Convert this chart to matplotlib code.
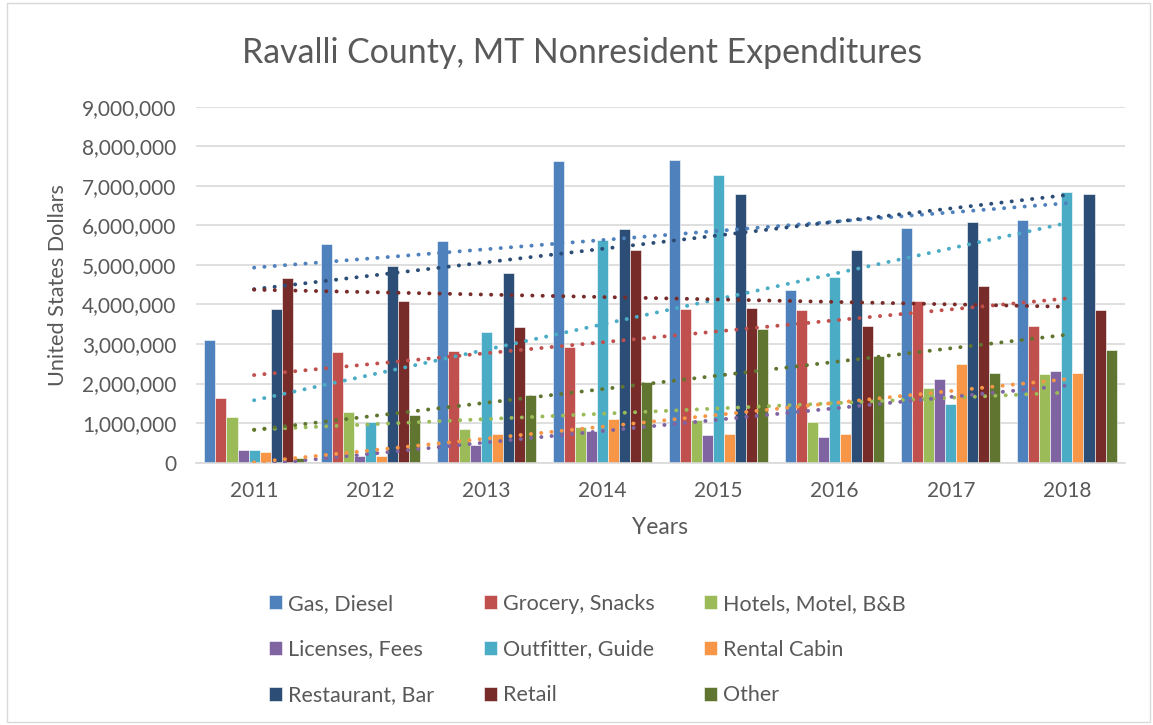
import numpy as np
import matplotlib.pyplot as plt
from matplotlib.patches import Rectangle

plt.rcParams['font.family'] = ['Lato', 'DejaVu Sans']

years = ['2011', '2012', '2013', '2014', '2015', '2016', '2017', '2018']

categories = ['Gas, Diesel', 'Grocery, Snacks', 'Hotels, Motel, B&B',
              'Licenses, Fees', 'Outfitter, Guide', 'Rental Cabin',
              'Restaurant, Bar', 'Retail', 'Other']

gas = [3110000, 5520000, 5610000, 7640000, 7650000, 4370000, 5930000, 6140000]
grocery = [1640000, 2790000, 2820000, 2930000, 3890000, 3860000, 4090000, 3450000]
hotels = [1160000, 1290000, 850000, 890000, 1090000, 1030000, 1900000, 2230000]
licenses = [310000, 180000, 460000, 810000, 710000, 650000, 2120000, 2310000]
outfitter = [320000, 1020000, 3300000, 5620000, 7270000, 4700000, 1480000, 6840000]
rental = [260000, 180000, 730000, 1100000, 730000, 730000, 2490000, 2270000]
restaurant = [3880000, 4970000, 4800000, 5920000, 6790000, 5380000, 6090000, 6790000]
retail = [4670000, 4090000, 3420000, 5390000, 3910000, 3460000, 4460000, 3860000]
other = [110000, 1210000, 1700000, 2040000, 3370000, 2700000, 2270000, 2860000]

series = [gas, grocery, hotels, licenses, outfitter, rental, restaurant, retail, other]
colors = ['#4f81bd', '#c0504d', '#9bbb59', '#8064a2', '#4bacc6',
          '#f79646', '#2c4d75', '#772c2a', '#5f7530']

txt = '#595959'
grid = '#d9d9d9'

fig = plt.figure(figsize=(11.53, 7.25), dpi=100)
ax = fig.add_axes([0.170, 0.3618, 0.8057, 0.491])

x = np.arange(len(years))
w = 0.095
handles = []
for i, (vals, c) in enumerate(zip(series, colors)):
    pos = x + (i - 4) * w
    b = ax.bar(pos, vals, width=w, color=c, edgecolor='white', linewidth=0.4,
               label=categories[i], zorder=2)
    handles.append(b)

# linear trendlines, dotted, on top of the bars
for vals, c in zip(series, colors):
    k, m = np.polyfit(x, vals, 1)
    ax.plot(x, k * x + m, color=c, lw=2.8, linestyle=(0, (0.05, 2.6)),
            dash_capstyle='round', zorder=3)

ax.set_xlim(-0.5, len(years) - 0.5)
ax.set_ylim(0, 9000000)
ax.set_yticks(np.arange(0, 9000001, 1000000))
ax.yaxis.set_major_formatter(plt.FuncFormatter(lambda v, p: f'{int(v):,}'))
ax.set_xticks(x)
ax.set_xticklabels(years)
ax.tick_params(length=0, labelsize=15, labelcolor=txt)
ax.tick_params(axis='x', pad=13)
ax.tick_params(axis='y', pad=14)
ax.grid(axis='y', color=grid, lw=1.2, zorder=0)
ax.set_axisbelow(True)
for s in ['top', 'right', 'left']:
    ax.spines[s].set_visible(False)
ax.spines['bottom'].set_color(grid)
ax.spines['bottom'].set_linewidth(1.2)

ax.set_ylabel('United States Dollars', fontsize=15.6, color=txt)
ax.yaxis.set_label_coords(-0.1378, 0.5)
ax.set_xlabel('Years', fontsize=16.5, color=txt, labelpad=12)

fig.text(0.505, 0.927, 'Ravalli County, MT Nonresident Expenditures',
         ha='center', va='center', fontsize=24.4, color=txt)

order = [0, 3, 6, 1, 4, 7, 2, 5, 8]
leg = fig.legend([handles[i] for i in order], [categories[i] for i in order],
                 ncol=3, loc='upper left', bbox_to_anchor=(0.226, 0.193),
                 frameon=False, fontsize=15.5, labelcolor=txt,
                 handlelength=0.6, handleheight=0.6, handletextpad=0.28,
                 columnspacing=2.3, labelspacing=1.2, borderaxespad=0)

fig.add_artist(Rectangle((7 / 1153, 3 / 725), 1143 / 1153, 719 / 725,
                         transform=fig.transFigure, fill=False,
                         edgecolor=grid, lw=1))

fig.savefig('out.png', dpi=100)
